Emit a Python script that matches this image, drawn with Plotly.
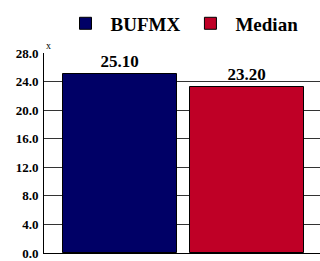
import plotly.graph_objects as go

series_names = ["BUFMX", "Median"]
values = [25.10, 23.20]
colors = ["#000066", "#bf0026"]
tick_vals = [0, 4, 8, 12, 16, 20, 24, 28]

fig = go.Figure()
for i, (name, v, c) in enumerate(zip(series_names, values, colors)):
    fig.add_trace(go.Bar(
        x=[i], y=[v], name=f"<b>{name}</b>", width=0.894,
        marker=dict(color=c, line=dict(color="black", width=1)),
        text=[f"<b>{v:.2f}</b>"], textposition="outside",
        textfont=dict(family="Liberation Serif", size=17, color="black"),
        cliponaxis=False,
    ))

fig.update_layout(
    width=320, height=261,
    margin=dict(l=44, r=0, t=53, b=8),
    plot_bgcolor="white", paper_bgcolor="white",
    showlegend=True,
    legend=dict(orientation="h", x=0.5, xanchor="center", y=0.983, yanchor="top",
                yref="container",
                font=dict(family="Liberation Serif", size=19, color="black"),
                itemwidth=40),
    font=dict(family="Liberation Serif", color="black"),
    bargap=0,
)
fig.update_xaxes(range=[-0.596, 1.569], showticklabels=False, showgrid=False,
                 zeroline=False, showline=True, linecolor="black", linewidth=1)
fig.update_yaxes(range=[0, 28], tickvals=tick_vals,
                 ticktext=[f"<b>{t:.1f}</b>" for t in tick_vals],
                 tickfont=dict(family="Liberation Serif", size=13, color="black"),
                 showgrid=True, gridcolor="#333", gridwidth=1,
                 ticks="", ticklabelstandoff=2,
                 showline=True, linecolor="black", linewidth=1, zeroline=False)
fig.add_annotation(text="x", xref="paper", yref="paper", x=0.0, y=1.0,
                   xanchor="left", yanchor="bottom", showarrow=False,
                   font=dict(family="Liberation Serif", size=10, color="black"))
fig.write_html("out.html", config={"displayModeBar": False},
               post_script="document.body.style.margin='0';document.body.style.overflow='hidden';")
